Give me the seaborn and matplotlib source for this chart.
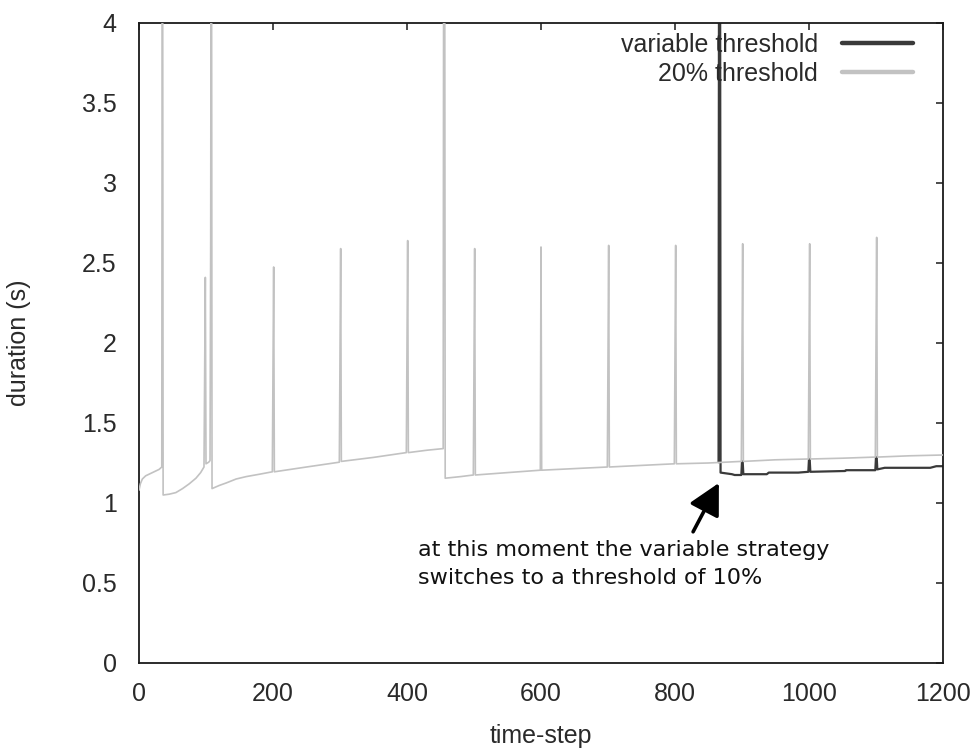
import numpy as np
import pandas as pd
import matplotlib
matplotlib.use("Agg")
import matplotlib.pyplot as plt
import seaborn as sns
from matplotlib.lines import Line2D

# ---------------- data ----------------
# "20% threshold" series: time-step and duration (s); values above 4 are off-chart spikes
steps_20 = [0, 2, 5, 10, 20, 30, 34, 35, 36, 45, 55, 65, 75, 85, 92, 97, 98, 99, 100,
            104, 106, 107, 108, 109, 120, 130, 145, 160, 180, 199, 200, 201, 202,
            250, 299, 300, 301, 302, 350, 399, 400, 401, 402, 430, 454, 455, 456, 457,
            480, 499, 500, 501, 502, 550, 599, 600, 601, 650, 699, 700, 701, 702,
            750, 799, 800, 801, 802, 850, 899, 900, 901, 902, 950, 999, 1000, 1001, 1002,
            1050, 1099, 1100, 1101, 1102, 1150, 1200]
duration_20 = [1.08, 1.12, 1.15, 1.17, 1.19, 1.21, 1.225, 6.0, 1.05, 1.055, 1.065, 1.09, 1.12, 1.155, 1.19, 1.225, 1.82, 2.41, 1.245,
               1.255, 1.265, 2.63, 6.0, 1.09, 1.11, 1.125, 1.15, 1.165, 1.18, 1.195, 1.84, 2.475, 1.195,
               1.225, 1.255, 1.925, 2.59, 1.26, 1.285, 1.315, 1.99, 2.64, 1.315, 1.33, 1.34, 6.0, 6.0, 1.155,
               1.165, 1.175, 1.88, 2.59, 1.175, 1.19, 1.205, 2.60, 1.205, 1.215, 1.225, 1.91, 2.61, 1.225,
               1.235, 1.245, 1.94, 2.61, 1.245, 1.25, 1.26, 1.93, 2.62, 1.26, 1.27, 1.275, 1.96, 2.62, 1.275,
               1.28, 1.287, 1.98, 2.66, 1.287, 1.295, 1.30]

# "variable threshold" series: identical to (and hidden under) the 20% one before the switch,
# so only its own part from the switch onwards is listed here
steps_var = [865, 866, 867, 868, 885, 889, 899, 900, 901, 902, 937, 940, 984, 999, 1000, 1001, 1002,
             1054, 1055, 1099, 1100, 1101, 1102, 1113, 1181, 1190, 1200]
duration_var = [1.255, 6.0, 6.0, 1.19, 1.18, 1.175, 1.175, 1.26, 1.26, 1.18, 1.18, 1.19, 1.19, 1.195, 1.275, 1.275, 1.195,
                1.20, 1.205, 1.205, 1.287, 1.287, 1.21, 1.22, 1.22, 1.23, 1.23]

series_labels = ["variable threshold", "20% threshold"]
x_ticks = [0, 200, 400, 600, 800, 1000, 1200]
y_ticks = [0, 0.5, 1, 1.5, 2, 2.5, 3, 3.5, 4]
y_tick_labels = ["0", "0.5", "1", "1.5", "2", "2.5", "3", "3.5", "4"]
annotation_text = "at this moment the variable strategy\nswitches to a threshold of 10%"

# ---------------- build tables ----------------
df20 = pd.DataFrame({"step": steps_20, "duration": duration_20})
dfvar = pd.DataFrame({"step": steps_var, "duration": duration_var})

# ---------------- style ----------------
sns.set_theme(style="white")
plt.rcParams["font.family"] = ["Liberation Sans", "DejaVu Sans"]

dark = "#3a3a3a"
light = "#c2c2c2"
textc = "#2a2a2a"

fig = plt.figure(figsize=(9.75, 7.51), dpi=100)
ax = fig.add_axes([139 / 975, 1 - 663 / 751, 804 / 975, 640 / 751])

sns.lineplot(data=dfvar, x="step", y="duration", ax=ax, color=dark, lw=1.6,
             sort=False, estimator=None, zorder=2)
sns.lineplot(data=df20, x="step", y="duration", ax=ax, color=light, lw=1.2,
             sort=False, estimator=None, zorder=3)

ax.set_xlim(0, 1200)
ax.set_ylim(0, 4)
ax.set_xticks(x_ticks)
ax.set_xticklabels([str(t) for t in x_ticks])
ax.set_yticks(y_ticks)
ax.set_yticklabels(y_tick_labels)

for s in ax.spines.values():
    s.set_visible(True)
    s.set_color("#1a1a1a")
    s.set_linewidth(1.3)

ax.tick_params(axis="both", which="major", direction="in", top=True, right=True,
               length=5, width=1.1, color="#1a1a1a", labelsize=18, labelcolor=textc)
ax.tick_params(axis="x", pad=14)
ax.tick_params(axis="y", pad=16)

ax.set_xlabel("time-step", fontsize=18, color=textc)
ax.set_ylabel("duration (s)", fontsize=18, color=textc)
ax.xaxis.set_label_coords(0.5, -0.095)
ax.yaxis.set_label_coords(-0.134, 0.5)

handles = [Line2D([0], [0], color=dark, lw=3.2), Line2D([0], [0], color=light, lw=3.2)]
leg = ax.legend(handles, series_labels, loc="upper right", bbox_to_anchor=(0.9627, 0.984),
                frameon=False, markerfirst=False, fontsize=18, handlelength=2.85,
                handletextpad=0.95, labelspacing=0.2, borderpad=0, borderaxespad=0)
for t in leg.get_texts():
    t.set_color(textc)

ax.annotate("", xy=(865.5, 1.125), xytext=(827, 0.82),
            arrowprops=dict(arrowstyle="-|>,head_length=0.95,head_width=0.5",
                            lw=2.6, color="black", mutation_scale=20, shrinkA=0, shrinkB=0),
            zorder=5)
ax.text(416, 0.77, annotation_text, fontsize=16, family=["DejaVu Sans"],
        color="#111111", va="top", ha="left", linespacing=1.5)

fig.savefig("out.png", dpi=100)
